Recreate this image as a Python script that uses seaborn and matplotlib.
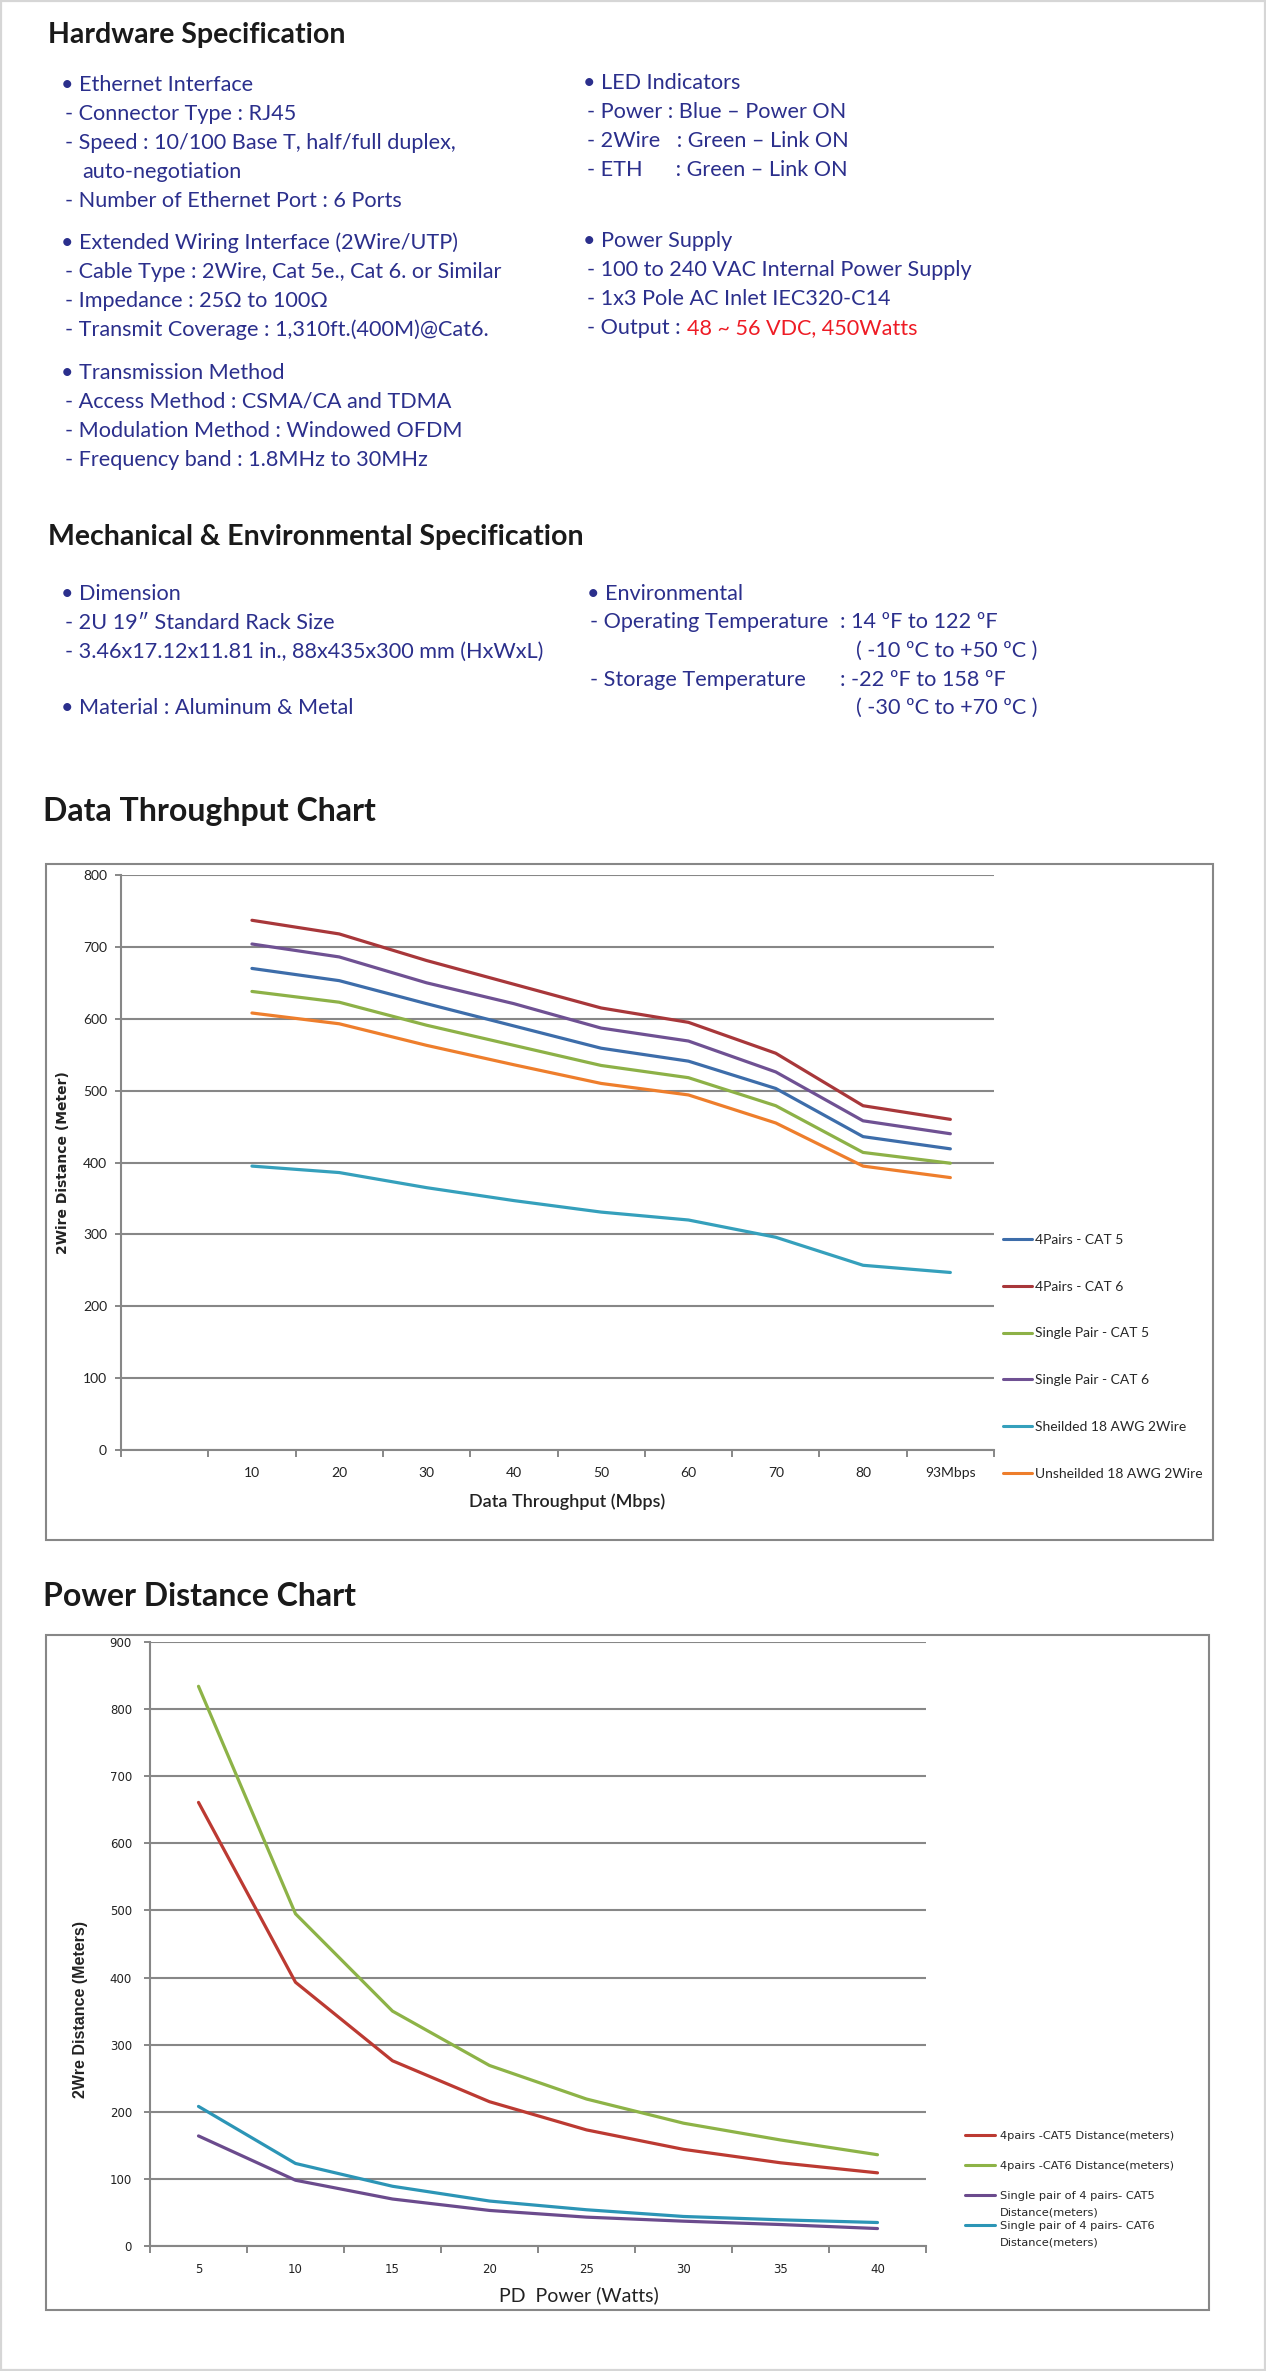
import numpy as np
import pandas as pd
import seaborn as sns
import matplotlib.pyplot as plt
from matplotlib.lines import Line2D
from matplotlib.patches import Rectangle

# =========================
# Data
# =========================
# Data Throughput Chart (first category slot is empty in the original)
throughput = ['10', '20', '30', '40', '50', '60', '70', '80', '93Mbps']
cat5_4pairs = [670, 653, 621, 590, 559, 541, 503, 436, 419]
cat6_4pairs = [737, 718, 681, 648, 615, 595, 552, 479, 460]
cat5_single = [638, 623, 591, 563, 535, 518, 479, 414, 399]
cat6_single = [704, 686, 650, 621, 587, 569, 526, 458, 440]
shielded_18awg = [395, 386, 365, 347, 331, 320, 296, 257, 247]
unshielded_18awg = [608, 593, 563, 536, 510, 494, 455, 395, 379]
names1 = ['4Pairs - CAT 5', '4Pairs - CAT 6', 'Single Pair - CAT 5',
          'Single Pair - CAT 6', 'Sheilded 18 AWG 2Wire', 'Unsheilded 18 AWG 2Wire']
colors1 = ['#3D6DAA', '#A8373A', '#8DB147', '#6F5193', '#35A0BC', '#EE7E2C']

# Power Distance Chart
pd_power = ['5', '10', '15', '20', '25', '30', '35', '40']
cat5_4pairs_pw = [661, 393, 276, 215, 173, 144, 124, 109]
cat6_4pairs_pw = [834, 495, 350, 269, 219, 183, 158, 136]
cat5_single_pw = [164, 98, 70, 53, 43, 37, 32, 26]
cat6_single_pw = [208, 123, 89, 67, 54, 44, 39, 35]
names2 = ['4pairs -CAT5 Distance(meters)', '4pairs -CAT6 Distance(meters)',
          'Single pair of 4 pairs- CAT5', 'Single pair of 4 pairs- CAT6']
colors2 = ['#BC3A32', '#8DB347', '#6B4B8D', '#2C95B6']

# Spec text
hw_left = [
    ['• Ethernet Interface', '- Connector Type : RJ45',
     '- Speed : 10/100 Base T, half/full duplex,', 'auto-negotiation',
     '- Number of Ethernet Port : 6 Ports'],
    ['• Extended Wiring Interface (2Wire/UTP)',
     '- Cable Type : 2Wire, Cat 5e., Cat 6. or Similar',
     '- Impedance : 25Ω to 100Ω', '- Transmit Coverage : 1,310ft.(400M)@Cat6.'],
    ['• Transmission Method', '- Access Method : CSMA/CA and TDMA',
     '- Modulation Method : Windowed OFDM', '- Frequency band : 1.8MHz to 30MHz'],
]
hw_right = [
    ['• LED Indicators', '- Power : Blue – Power ON', '- 2Wire   : Green – Link ON',
     '- ETH      : Green – Link ON'],
    ['• Power Supply', '- 100 to 240 VAC Internal Power Supply',
     '- 1x3 Pole AC Inlet IEC320-C14', '- Output : '],
]
output_red = '48 ~ 56 VDC, 450Watts'
mech_left = [['• Dimension', '- 2U 19″ Standard Rack Size',
              '- 3.46x17.12x11.81 in., 88x435x300 mm (HxWxL)'],
             ['• Material : Aluminum & Metal']]
env_rows = [('• Environmental', '', ''),
            ('- Operating Temperature', ': 14 ºF to 122 ºF', ''),
            ('', '', '( -10 ºC to +50 ºC )'),
            ('- Storage Temperature', ': -22 ºF to 158 ºF', ''),
            ('', '', '( -30 ºC to +70 ºC )')]

# =========================
# Figure setup
# =========================
sns.set_style('white')
plt.rcParams['font.family'] = ['Lato', 'DejaVu Sans']
W, H = 1266, 2371
fig = plt.figure(figsize=(W / 100, H / 100), dpi=100)

NAVY = '#2B2F8C'
HEAD = '#1A1A1A'
GRID = '#878787'
BODY = 15.6
LS = 29


def put(x, y, s, **kw):
    return fig.text(x / W, 1 - y / H, s, **kw)


def xpos(s):
    if s.startswith('•'):
        return 61
    if s.startswith('-'):
        return 65
    return 82


# page border
fig.patches.append(Rectangle((0.001, 0.0005), 0.998, 0.999, transform=fig.transFigure,
                             fill=False, ec='#D6D6D6', lw=1.6))

# =========================
# Spec text
# =========================
put(48, 35, 'Hardware Specification', fontsize=20.5, weight='bold', color=HEAD, va='center')
y_out = None
for start, block in zip([85, 243, 373], hw_left):
    for i, s in enumerate(block):
        put(xpos(s), start + i * LS, s, fontsize=BODY, color=NAVY, va='center')
for start, block in zip([83, 241], hw_right):
    for i, s in enumerate(block):
        t = put(583 if s.startswith('•') else 587, start + i * LS, s,
                fontsize=BODY, color=NAVY, va='center')
        y_out = (t, start + i * LS)

put(48, 537, 'Mechanical & Environmental Specification', fontsize=20.5,
    weight='bold', color=HEAD, va='center')
for start, block in zip([594, 708], mech_left):
    for i, s in enumerate(block):
        put(xpos(s), start + i * LS, s, fontsize=BODY, color=NAVY, va='center')
for i, (a, b, c) in enumerate(env_rows):
    y = 594 + i * 28.5
    if a:
        put(587 if a.startswith('•') else 590, y, a, fontsize=BODY, color=NAVY, va='center')
    if b:
        put(840, y, b, fontsize=BODY, color=NAVY, va='center')
    if c:
        put(856, y, c, fontsize=BODY, color=NAVY, va='center')

# =========================
# Chart 1: Data Throughput
# =========================
put(43, 812, 'Data Throughput Chart', fontsize=23, weight='bold', color=HEAD, va='center')
fig.patches.append(Rectangle((46 / W, 1 - 1540 / H), (1213 - 46) / W, (1540 - 864) / H,
                             transform=fig.transFigure, fill=False, ec=GRID, lw=1.5))

ax1 = fig.add_axes([121 / W, 1 - 1450 / H, 873 / W, 575 / H])
series1 = [cat5_4pairs, cat6_4pairs, cat5_single, cat6_single, shielded_18awg, unshielded_18awg]
df1 = pd.concat([pd.DataFrame({'throughput': throughput, 'distance': v, 'cable': n})
                 for n, v in zip(names1, series1)], ignore_index=True)
sns.lineplot(data=df1, x='throughput', y='distance', hue='cable', hue_order=names1,
             palette=colors1, linewidth=2.3, estimator=None, sort=False,
             legend=False, ax=ax1)

ax1.set_xlim(-1.5, len(throughput) - 0.5)
ax1.set_ylim(0, 800)
ax1.set_yticks(range(0, 801, 100))
ax1.set_xticks(range(len(throughput)))
ax1.set_xticklabels(throughput)
ax1.set_xticks(np.arange(-1.5, len(throughput), 1.0), minor=True)

# =========================
# Chart 2: Power Distance
# =========================
put(43, 1597, 'Power Distance Chart', fontsize=23, weight='bold', color=HEAD, va='center')
fig.patches.append(Rectangle((46 / W, 1 - 2310 / H), (1209 - 46) / W, (2310 - 1635) / H,
                             transform=fig.transFigure, fill=False, ec=GRID, lw=1.5))

ax2 = fig.add_axes([150 / W, 1 - 2246 / H, 776 / W, 604 / H])
series2 = [cat5_4pairs_pw, cat6_4pairs_pw, cat5_single_pw, cat6_single_pw]
df2 = pd.concat([pd.DataFrame({'power': pd_power, 'distance': v, 'cable': n})
                 for n, v in zip(names2, series2)], ignore_index=True)
sns.lineplot(data=df2, x='power', y='distance', hue='cable', hue_order=names2,
             palette=colors2, linewidth=2.3, estimator=None, sort=False,
             legend=False, ax=ax2)

ax2.set_xlim(-0.5, len(pd_power) - 0.5)
ax2.set_ylim(0, 900)
ax2.set_yticks(range(0, 901, 100))
ax2.set_xticks(range(len(pd_power)))
ax2.set_xticklabels(pd_power)
ax2.set_xticks(np.arange(-0.5, len(pd_power), 1.0), minor=True)

# shared axis styling (Excel look)
for ax in (ax1, ax2):
    ax.set_facecolor('none')
    ax.yaxis.grid(True, color=GRID, lw=1.5)
    ax.xaxis.grid(False)
    for side in ('top', 'right'):
        ax.spines[side].set_visible(False)
    for side in ('left', 'bottom'):
        ax.spines[side].set_color(GRID)
        ax.spines[side].set_linewidth(1.5)
    ax.tick_params(axis='x', which='major', length=0, bottom=True)
    ax.tick_params(axis='x', which='minor', length=5, width=1.4, color=GRID, bottom=True)
    ax.tick_params(axis='y', which='major', length=4, width=1.4, color=GRID, left=True)
    ax.set_axisbelow(True)

ax1.tick_params(axis='x', which='major', pad=12, labelsize=10, labelcolor='#222222')
ax1.tick_params(axis='y', pad=6, labelsize=10, labelcolor='#222222')
ax2.tick_params(axis='x', which='major', pad=12, labelsize=8.5, labelcolor='#222222')
ax2.tick_params(axis='y', pad=9, labelsize=8.5, labelcolor='#222222')
for lab in ax2.get_xticklabels() + ax2.get_yticklabels():
    lab.set_family('DejaVu Sans')

ax1.set_xlabel('Data Throughput (Mbps)', fontsize=13, weight='semibold', color='#222222', va='center')
ax1.xaxis.set_label_coords((567 - 121) / 873, -(1502 - 1450) / 575)
ax1.set_ylabel('2Wire Distance (Meter)', fontsize=10, weight='bold', family='DejaVu Sans',
               color='#222222', va='center')
ax1.yaxis.set_label_coords((63 - 121) / 873, 0.5)

ax2.set_xlabel('PD  Power (Watts)', fontsize=14, color='#222222', va='center')
ax2.xaxis.set_label_coords((579 - 150) / 776, -(2295 - 2246) / 604)
ax2.set_ylabel('2Wre Distance (Meters)', fontsize=11.5, weight='bold',
               family=['Liberation Sans', 'DejaVu Sans'], color='#222222', va='center')
ax2.yaxis.set_label_coords((81 - 150) / 776, (2246 - 2010) / 604)

# legends
h1 = [Line2D([], [], color=c, lw=2.2) for c in colors1]
fig.legend(h1, names1, loc='upper left', bbox_to_anchor=(1003 / W, 1 - 1234 / H),
           bbox_transform=fig.transFigure, frameon=False, borderpad=0, borderaxespad=0,
           handlelength=2.1, handletextpad=0.2, labelspacing=2.5,
           prop={'family': ['Lato', 'DejaVu Sans'], 'size': 10})

h2 = [Line2D([], [], color=c, lw=2.2) for c in colors2]
leg2 = fig.legend(h2, names2, loc='upper left', bbox_to_anchor=(965 / W, 1 - 2131 / H),
                  bbox_transform=fig.transFigure, frameon=False, borderpad=0, borderaxespad=0,
                  handlelength=2.6, handletextpad=0.45, labelspacing=1.75,
                  prop={'family': 'DejaVu Sans', 'size': 8.2})

# second lines of the wrapped legend labels + red part of the output line
fig.canvas.draw()
for t in leg2.get_texts()[2:]:
    bb = t.get_window_extent()
    fig.text(bb.x0 / W, (bb.y1 - 16.5) / H, 'Distance(meters)', family='DejaVu Sans',
             fontsize=8.2, va='top', ha='left')
t_out, y_o = y_out
bb = t_out.get_window_extent()
put(bb.x1 + 1, y_o, output_red, fontsize=BODY, color='#EE1C25', va='center')

fig.savefig('out.png', dpi=100)
